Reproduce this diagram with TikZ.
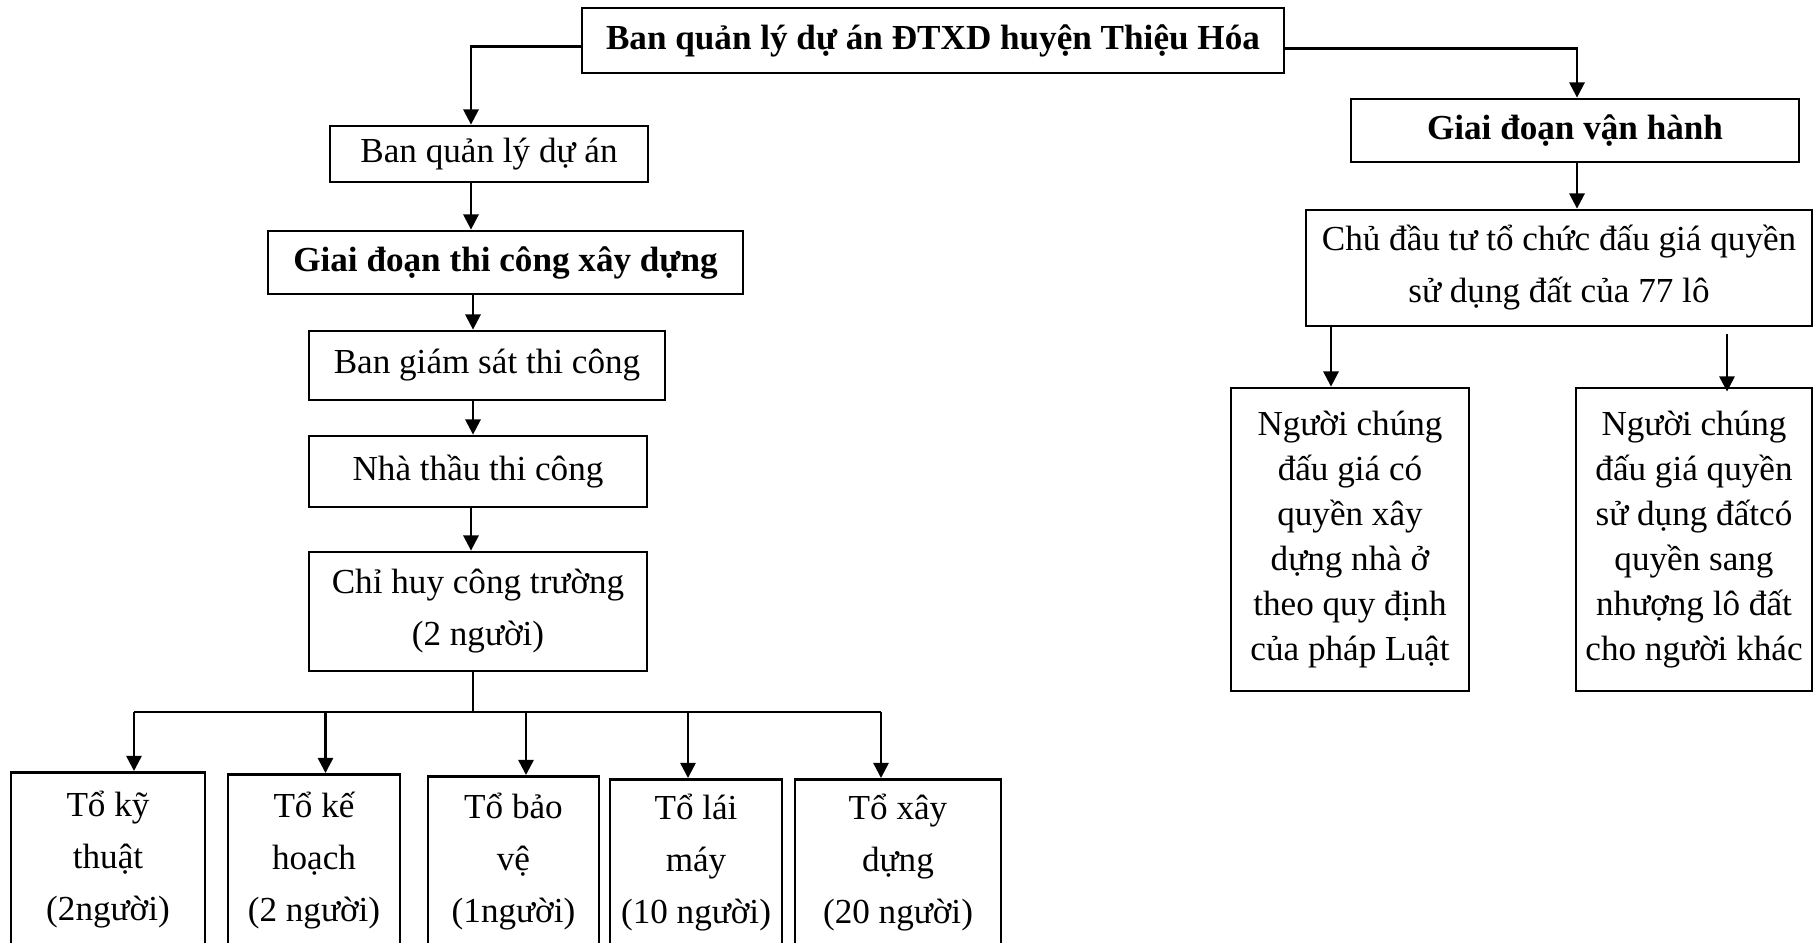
\documentclass[tikz,border=0pt]{standalone}
\usepackage{fontspec}
\setmainfont{Liberation Serif}
\usetikzlibrary{arrows.meta,positioning}

\tikzset{
	box/.style={draw, line width=0.8pt, inner sep=0pt, align=center,
		font=\fontsize{10}{14.8}\selectfont},
	tallbox/.style={box, font=\fontsize{10}{12.8}\selectfont},
	link/.style={line width=0.7pt},
	arr/.style={line width=0.7pt, -{Triangle[length=4.3pt,width=4.3pt]}}
}

\begin{document}
\begin{tikzpicture}[x=0.1mm,y=-0.1mm]

		\useasboundingbox
		(0,0)
		rectangle
		(1814,942);

		% top
		\node[box, minimum width=70.2mm, minimum height=6.5mm] (top) at (933,40.5)
		{\bfseries Ban quản lý dự án ĐTXD huyện Thiệu Hóa};

		% left column
		\coordinate (spine) at (471,0);

		\node[box, minimum width=31.8mm, minimum height=5.6mm] (bql) at (489,154)
		{Ban quản lý dự án};

		\node[box, minimum width=47.5mm, minimum height=6.3mm] (thicong) at (505.5,262.5)
		{\bfseries Giai đoạn thi công xây dựng};

		\node[box, minimum width=35.6mm, minimum height=6.9mm] (giamsat) at (487,365.5)
		{Ban giám sát thi công};

		\node[box, minimum width=33.8mm, minimum height=7.1mm] (nhathau) at (478,471.5)
		{Nhà thầu thi công};

		\node[box, minimum width=33.8mm, minimum height=11.9mm] (chihuy) at (478,611.5)
		{Chỉ huy công trường\\(2 người)};

		\node[box, anchor=north, minimum width=19.4mm, minimum height=17.4mm] (t1) at (108,771)
		{Tổ kỹ\\thuật\\(2người)};

		\node[box, anchor=north, minimum width=17.2mm, minimum height=17.2mm] (t2) at (314,773)
		{Tổ kế\\hoạch\\(2 người)};

		\node[box, anchor=north, minimum width=17.1mm, minimum height=17.0mm] (t3) at (513.5,775)
		{Tổ bảo\\vệ\\(1người)};

		\node[box, anchor=north, minimum width=17.2mm, minimum height=16.7mm] (t4) at (696,778)
		{Tổ lái\\máy\\(10 người)};

		\node[box, anchor=north, minimum width=20.6mm, minimum height=16.7mm] (t5) at (898,778)
		{Tổ xây\\dựng\\(20 người)};

		% right column
		\node[box, minimum width=44.8mm, minimum height=6.3mm] (vanhanh) at (1575,130.5)
		{\bfseries Giai đoạn vận hành};

		\node[box, minimum width=50.6mm, minimum height=11.6mm] (chudautu) at (1559,268)
		{Chủ đầu tư tổ chức đấu giá quyền\\sử dụng đất của 77 lô};

		\node[tallbox, minimum width=23.8mm, minimum height=30.3mm] (nguoi1) at (1350,539.5)
		{Người chúng\\đấu giá có\\quyền xây\\dựng nhà ở\\theo quy định\\của pháp Luật};

		\node[tallbox, minimum width=23.6mm, minimum height=30.3mm] (nguoi2) at (1694,539.5)
		{Người chúng\\đấu giá quyền\\sử dụng đấtcó\\quyền sang\\nhượng lô đất\\cho người khác};

		% connectors
		\draw[arr]
		([yshift=-0.6mm]top.west)
		-|
		(bql.north -| spine);

		\draw[arr]
		(bql.south -| spine)
		--
		(thicong.north -| spine);

		\draw[arr]
		([xshift=0.2mm]thicong.south -| spine)
		--
		([xshift=0.2mm]giamsat.north -| spine);

		\draw[arr]
		([xshift=0.2mm]giamsat.south -| spine)
		--
		([xshift=0.2mm]nhathau.north -| spine);

		\draw[arr]
		(nhathau.south -| spine)
		--
		(chihuy.north -| spine);

		\coordinate (bus) at (473,712);

		\draw[link]
		(chihuy.south -| bus)
		--
		(bus);

		\draw[link]
		([xshift=2.6mm]t1.north |- bus)
		--
		([xshift=-1.7mm]t5.north |- bus);

		\foreach \n/\dx in {t1/2.6, t2/1.15, t3/1.25, t4/-0.8, t5/-1.7}
		\draw[arr]
		([xshift=\dx mm]\n.north |- bus)
		--
		([xshift=\dx mm]\n.north);

		\draw[arr]
		([yshift=-0.8mm]top.east)
		-|
		([xshift=0.2mm]vanhanh.north);

		\draw[arr]
		([xshift=0.2mm]vanhanh.south)
		--
		([xshift=0.2mm]vanhanh.south |- chudautu.north);

		\draw[arr]
		([xshift=-1.9mm]nguoi1.north |- chudautu.south)
		--
		([xshift=-1.9mm]nguoi1.north);

		\draw[arr, shorten <=2pt, shorten >=-1.4pt]
		([xshift=3.3mm]nguoi2.north |- chudautu.south)
		--
		([xshift=3.3mm]nguoi2.north);

	\end{tikzpicture}
\end{document}
